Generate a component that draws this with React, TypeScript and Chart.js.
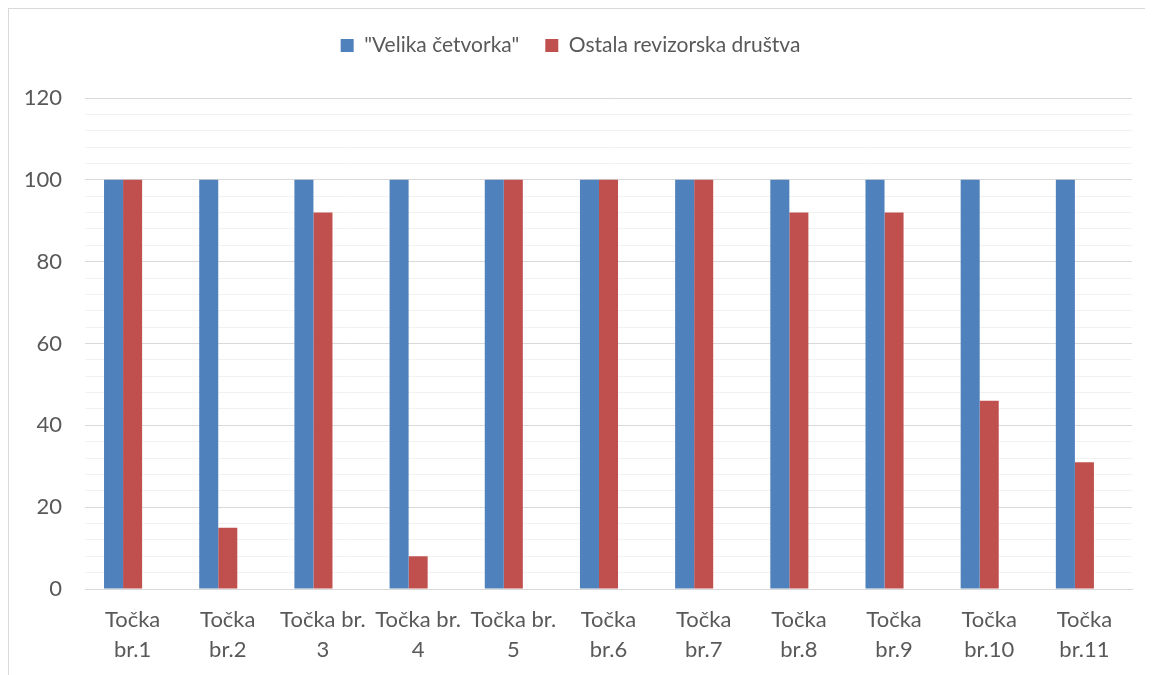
import React, { useEffect, useRef } from "react";
import { Chart, registerables } from "chart.js";

Chart.register(...registerables);

const categories: string[][] = [
  ["Točka", "br.1"],
  ["Točka", "br.2"],
  ["Točka br.", "3"],
  ["Točka br.", "4"],
  ["Točka br.", "5"],
  ["Točka", "br.6"],
  ["Točka", "br.7"],
  ["Točka", "br.8"],
  ["Točka", "br.9"],
  ["Točka", "br.10"],
  ["Točka", "br.11"],
];
const seriesNames = ['"Velika četvorka"', "Ostala revizorska društva"];
const velikaCetvorka = [100, 100, 100, 100, 100, 100, 100, 100, 100, 100, 100];
const ostalaDrustva = [100, 15, 92, 8, 100, 100, 100, 92, 92, 46, 31];
const emptySeries = [null, null, null, null, null, null, null, null, null, null, null];
const yMin = 0;
const yMax = 120;
const yMinorStep = 4;
const yMajorStep = 20;

const FONT = "Lato, 'Open Sans', sans-serif";
const TEXT = "#595959";

export default function App() {
  const ref = useRef<HTMLCanvasElement | null>(null);

  useEffect(() => {
    document.documentElement.style.overflow = "hidden";
    const canvas = ref.current;
    if (!canvas) return;

    const legendFix = {
      id: "legendFix",
      beforeInit(chart: any) {
        const legend = chart.legend;
        if (legend) {
          const fit = legend.fit.bind(legend);
          legend.fit = function () {
            fit();
            this.height = 89;
          };
        }
      },
    };

    const chart = new Chart(canvas, {
      type: "bar",
      data: {
        labels: categories,
        datasets: [
          {
            label: seriesNames[0],
            data: velikaCetvorka,
            backgroundColor: "#4F81BD",
            categoryPercentage: 0.6,
            barPercentage: 1.0,
          },
          {
            label: seriesNames[1],
            data: ostalaDrustva,
            backgroundColor: "#C0504D",
            categoryPercentage: 0.6,
            barPercentage: 1.0,
          },
          {
            label: "",
            data: emptySeries,
            backgroundColor: "transparent",
            categoryPercentage: 0.6,
            barPercentage: 1.0,
          },
        ],
      },
      options: {
        responsive: false,
        animation: false,
        layout: { padding: { left: 0, right: 13, top: 0, bottom: 0 } },
        plugins: {
          tooltip: { enabled: false },
          legend: {
            position: "top",
            labels: {
              color: TEXT,
              font: { family: FONT, size: 21 },
              boxWidth: 13,
              boxHeight: 13,
              padding: 26,
              filter: (item: any) => item.datasetIndex < 2,
            },
          },
        },
        scales: {
          x: {
            grid: { display: false },
            border: { display: true, color: "#D9D9D9", width: 1 },
            ticks: {
              color: TEXT,
              font: { family: FONT, size: 22, lineHeight: 1.36 },
              maxRotation: 0,
              autoSkip: false,
              padding: 8,
            },
            afterFit: (axis: any) => {
              axis.height = 86;
            },
          },
          y: {
            min: yMin,
            max: yMax,
            border: { display: false },
            grid: {
              drawTicks: false,
              color: (ctx: any) =>
                ctx.tick && ctx.tick.value % yMajorStep === 0 ? "#D9D9D9" : "#F2F2F2",
              lineWidth: 1,
            },
            ticks: {
              stepSize: yMinorStep,
              autoSkip: false,
              color: TEXT,
              font: { family: FONT, size: 22 },
              padding: 23,
              callback: (v: any) => (Number(v) % yMajorStep === 0 ? String(v) : ""),
            },
            afterFit: (axis: any) => {
              axis.width = 76;
            },
          },
        },
      },
      plugins: [legendFix],
    } as any);

    return () => {
      chart.destroy();
    };
  }, []);

  return (
    <div
      style={{
        width: 1138,
        height: 667,
        borderTop: "1px solid #D9D9D9",
        borderLeft: "1px solid #D9D9D9",
        borderRight: "1px solid #D9D9D9",
        boxSizing: "border-box",
        background: "#FFFFFF",
      }}
    >
      <canvas ref={ref} width={1136} height={666} style={{ display: "block", width: 1136, height: 666 }} />
    </div>
  );
}
